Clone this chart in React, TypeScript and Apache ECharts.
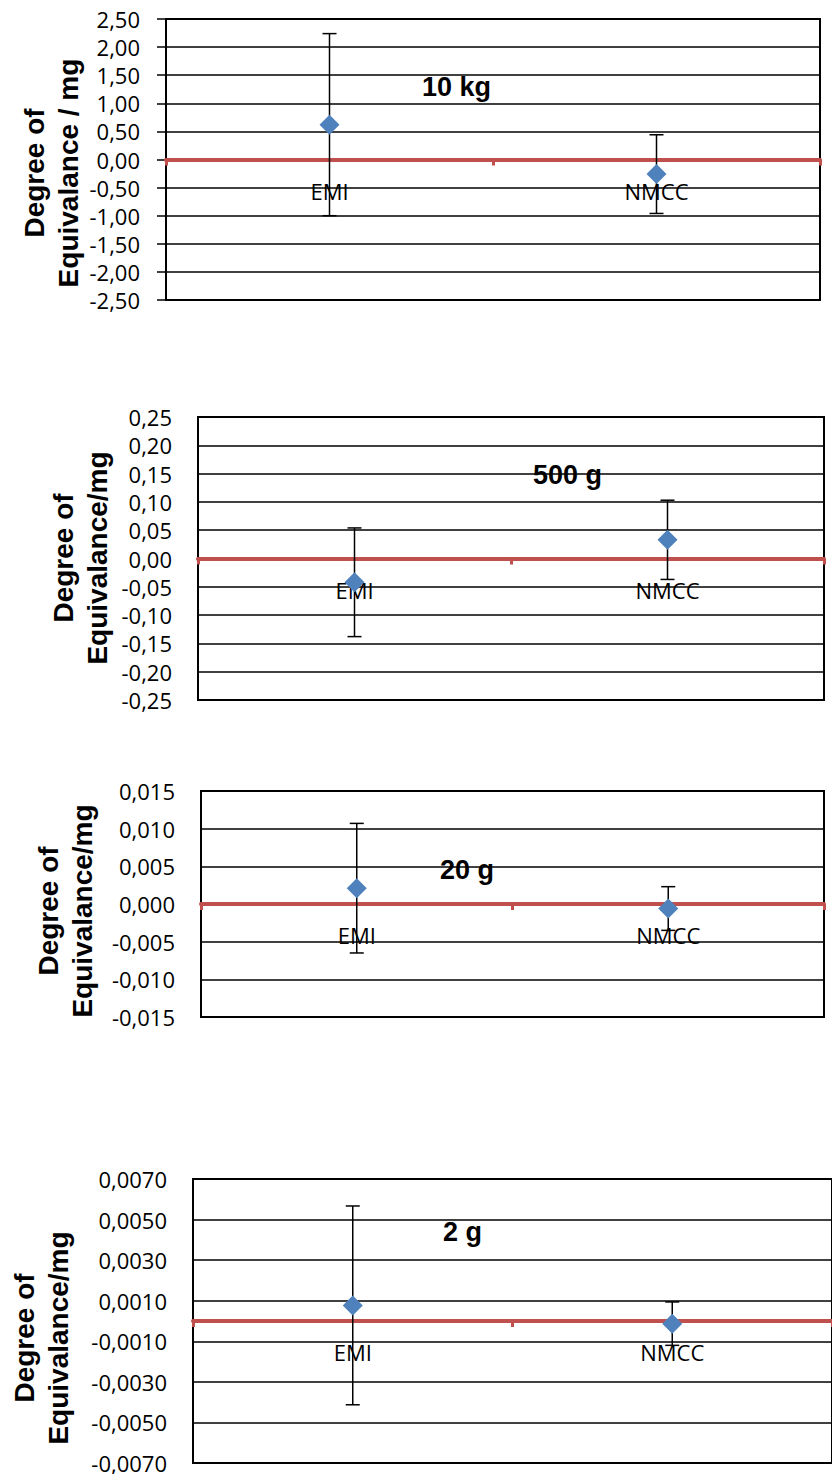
import React, { useEffect, useRef } from "react";
import * as echarts from "echarts";

// Categories (participating laboratories)
const categories = ["EMI", "NMCC"];

// Degrees of equivalence and expanded uncertainties (mg), per nominal mass
const doe10kg = [0.62, -0.26];
const unc10kg = [1.62, 0.7];

const doe500g = [-0.042, 0.033];
const unc500g = [0.096, 0.07];

const doe20g = [0.0021, -0.0006];
const unc20g = [0.0086, 0.0029];

const doe2g = [0.00077, -0.00013];
const unc2g = [0.0049, 0.00107];

// Panel titles and axis names
const panelTitles = ["10 kg", "500 g", "20 g", "2 g"];
const axisNames = [
  "Degree of\nEquivalance / mg",
  "Degree of\nEquivalance/mg",
  "Degree of\nEquivalance/mg",
  "Degree of\nEquivalance/mg",
];

// Y-axis ranges: [min, max, interval, decimals]
const yRanges: [number, number, number, number][] = [
  [-2.5, 2.5, 0.5, 2],
  [-0.25, 0.25, 0.05, 2],
  [-0.015, 0.015, 0.005, 3],
  [-0.007, 0.007, 0.002, 4],
];

const values = [doe10kg, doe500g, doe20g, doe2g];
const uncertainties = [unc10kg, unc500g, unc20g, unc2g];

// Layout (pixels)
const grids = [
  { left: 166, top: 19, width: 654, height: 281 },
  { left: 198, top: 417, width: 626, height: 283 },
  { left: 201, top: 791, width: 623, height: 226 },
  { left: 193, top: 1179, width: 646, height: 284 },
];
const titlePos = [
  [422, 87],
  [533, 475],
  [440, 870],
  [443, 1232],
];
const namePos = [
  [51, 173],
  [80, 558],
  [65, 911],
  [41, 1338],
];
const yTickShown = [true, false, false, false];

const RED = "#C0504D";
const BLUE = "#4F81BD";

export default function App() {
  const ref = useRef<HTMLDivElement>(null);

  useEffect(() => {
    document.body.style.margin = "0";
    if (!ref.current) return;
    const chart = echarts.init(ref.current, undefined, { renderer: "svg" });

    const xAxis: any[] = [];
    const yAxis: any[] = [];
    const series: any[] = [];
    const graphic: any[] = [];

    grids.forEach((g, i) => {
      const [min, max, interval, dec] = yRanges[i];
      xAxis.push({
        type: "category",
        gridIndex: i,
        data: categories,
        boundaryGap: true,
        z: 1,
        axisLine: {
          show: true,
          onZero: true,
          lineStyle: { color: RED, width: 4 },
        },
        axisTick: {
          show: true,
          interval: 0,
          length: 6,
          lineStyle: { color: RED, width: 3 },
        },
        axisLabel: { show: false },
        splitLine: { show: false },
      });
      yAxis.push({
        type: "value",
        gridIndex: i,
        min,
        max,
        interval,
        axisLine: { show: true, lineStyle: { color: "#000", width: 2 } },
        axisTick: {
          show: yTickShown[i],
          length: 9,
          lineStyle: { color: "#000", width: 1.5 },
        },
        axisLabel: {
          margin: 26,
          color: "#000",
          fontFamily: "Open Sans",
          fontSize: 22,
          formatter: (v: number) => {
            const val = Math.abs(v) < 1e-12 ? 0 : v;
            return val.toFixed(dec).replace(".", ",");
          },
        },
        splitLine: { show: true, lineStyle: { color: "#000", width: 1.5 } },
      });

      // Category labels sitting just under the zero line
      series.push({
        type: "scatter",
        xAxisIndex: i,
        yAxisIndex: i,
        z: 1,
        symbolSize: 0,
        silent: true,
        itemStyle: { opacity: 1, color: "#000" },
        data: categories.map((c) => [c, 0]),
        label: {
          show: true,
          position: "bottom",
          distance: 20,
          color: "#000",
          opacity: 1,
          fontFamily: "Open Sans",
          fontSize: 22,
          formatter: (p: any) => p.name || p.value[0],
        },
      });

      series.push({
        type: "custom",
        xAxisIndex: i,
        yAxisIndex: i,
        z: 2,
        data: categories.map((_, k) => [k, values[i][k], uncertainties[i][k]]),
        encode: { x: 0, y: 1 },
        renderItem: (params: any, api: any) => {
          const x = api.value(0);
          const y = api.value(1);
          const u = api.value(2);
          const top = api.coord([x, y + u]);
          const bot = api.coord([x, y - u]);
          const hw = 7;
          const style = { stroke: "#000", lineWidth: 1.5 };
          return {
            type: "group",
            children: [
              { type: "line", shape: { x1: top[0], y1: top[1], x2: bot[0], y2: bot[1] }, style },
              { type: "line", shape: { x1: top[0] - hw, y1: top[1], x2: top[0] + hw, y2: top[1] }, style },
              { type: "line", shape: { x1: bot[0] - hw, y1: bot[1], x2: bot[0] + hw, y2: bot[1] }, style },
            ],
          };
        },
      });
      series.push({
        type: "scatter",
        xAxisIndex: i,
        yAxisIndex: i,
        z: 3,
        symbol: "diamond",
        symbolSize: [20, 20],
        itemStyle: { color: BLUE, opacity: 1 },
        data: values[i],
      });

      graphic.push({
        type: "text",
        x: titlePos[i][0],
        y: titlePos[i][1],
        z: 10,
        style: {
          text: panelTitles[i],
          font: "bold 27px 'Liberation Sans', Arial, sans-serif",
          fill: "#000",
          textAlign: "left",
          textVerticalAlign: "middle",
        },
      });
      graphic.push({
        type: "text",
        x: namePos[i][0],
        y: namePos[i][1],
        rotation: Math.PI / 2,
        z: 10,
        style: {
          text: axisNames[i],
          font: "bold 28px 'Liberation Sans', Arial, sans-serif",
          lineHeight: 34,
          fill: "#000",
          textAlign: "center",
          textVerticalAlign: "middle",
        },
      });
    });

    chart.setOption({
      animation: false,
      backgroundColor: "#fff",
      grid: grids.map((g) => ({
        ...g,
        show: true,
        borderColor: "#000",
        borderWidth: 2,
        backgroundColor: "transparent",
        containLabel: false,
      })),
      xAxis,
      yAxis,
      series,
      graphic,
    });

    return () => chart.dispose();
  }, []);

  return <div ref={ref} style={{ width: 832, height: 1474 }} />;
}
